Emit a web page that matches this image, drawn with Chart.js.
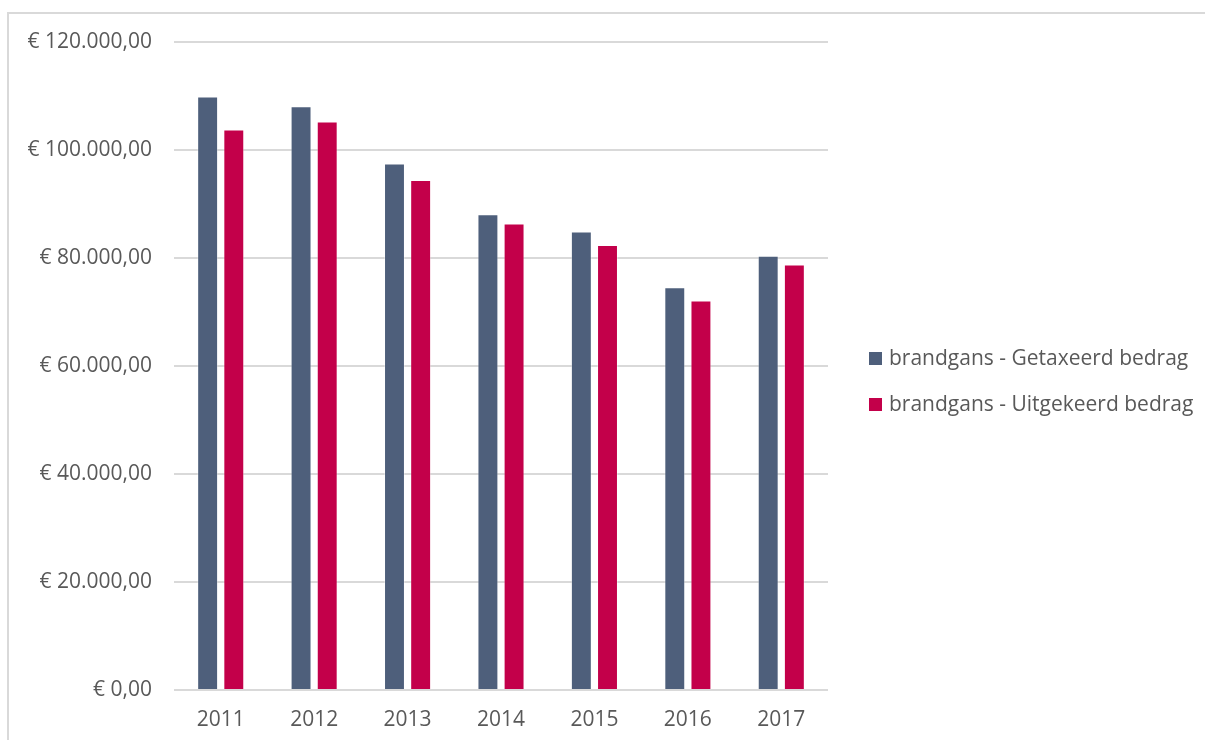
<!DOCTYPE html>
<html>
<head>
<meta charset="utf-8">
<script src="https://cdn.jsdelivr.net/npm/chart.js@4/dist/chart.umd.min.js"></script>
<style>
  html, body { margin:0; padding:0; background:#fff; overflow:hidden; }
  #frame { position:absolute; left:7px; top:12px; width:1300px; height:800px; border:2px solid #d9d9d9; box-sizing:border-box; }
  #wrap { position:absolute; left:0; top:0; width:1205px; height:740px; }
  #legend { position:absolute; left:869px; top:343px; font-family:"Open Sans", sans-serif; font-size:21px; color:#595959; }
  #legend .it { height:46px; display:flex; align-items:flex-start; white-space:nowrap; }
  #legend .sw { width:13px; height:13px; margin:9px 7px 0 0; }
</style>
</head>
<body>
<div id="frame"></div>
<div id="wrap"><canvas id="c" width="1205" height="740"></canvas></div>
<div id="legend"></div>
<script>
  /* reference values */
  const years = ["2011","2012","2013","2014","2015","2016","2017"];
  const getaxeerd = [109900, 108100, 97500, 88100, 84900, 74600, 80400];
  const uitgekeerd = [103800, 105300, 94450, 86400, 82400, 72150, 78800];
  const seriesNames = ["brandgans - Getaxeerd bedrag", "brandgans - Uitgekeerd bedrag"];
  const colors = ["#4e5f7b", "#c3004a"];

  const euro = (v) => "€ " + v.toLocaleString("nl-NL", { minimumFractionDigits: 2, maximumFractionDigits: 2 });

  const $legend = document.getElementById("legend");
  $legend.innerHTML = seriesNames.map((n, i) =>
    `<div class="it"><div class="sw" style="background:${colors[i]}"></div><span>${n}</span></div>`).join("");

  Chart.defaults.font.family = '"Open Sans", sans-serif';
  Chart.defaults.font.size = 21;
  Chart.defaults.color = "#595959";

  new Chart(document.getElementById("c"), {
    type: "bar",
    data: {
      labels: years,
      datasets: [
        { label: seriesNames[0], data: getaxeerd, backgroundColor: colors[0], borderColor: "rgba(255,255,255,0.35)", borderWidth: 1 },
        { label: seriesNames[1], data: uitgekeerd, backgroundColor: colors[1], borderColor: "rgba(255,255,255,0.35)", borderWidth: 1 },
      ],
    },
    options: {
      responsive: false,
      animation: false,
      layout: { padding: { top: 42, right: 377, bottom: 0, left: 0 } },
      plugins: { legend: { display: false }, tooltip: { enabled: false } },
      datasets: { bar: { categoryPercentage: 0.56, barPercentage: 0.8 } },
      scales: {
        x: {
          afterFit: (s) => { s.height = 50; },
          grid: { display: false },
          border: { display: false },
          ticks: { padding: 9 },
        },
        y: {
          min: 0, max: 120000,
          afterFit: (s) => { s.width = 174; },
          grid: { color: "#d9d9d9", lineWidth: 2, drawTicks: false },
          border: { display: false },
          ticks: { stepSize: 20000, padding: 22, callback: (v) => euro(v) },
        },
      },
    },
  });
</script>
</body>
</html>
